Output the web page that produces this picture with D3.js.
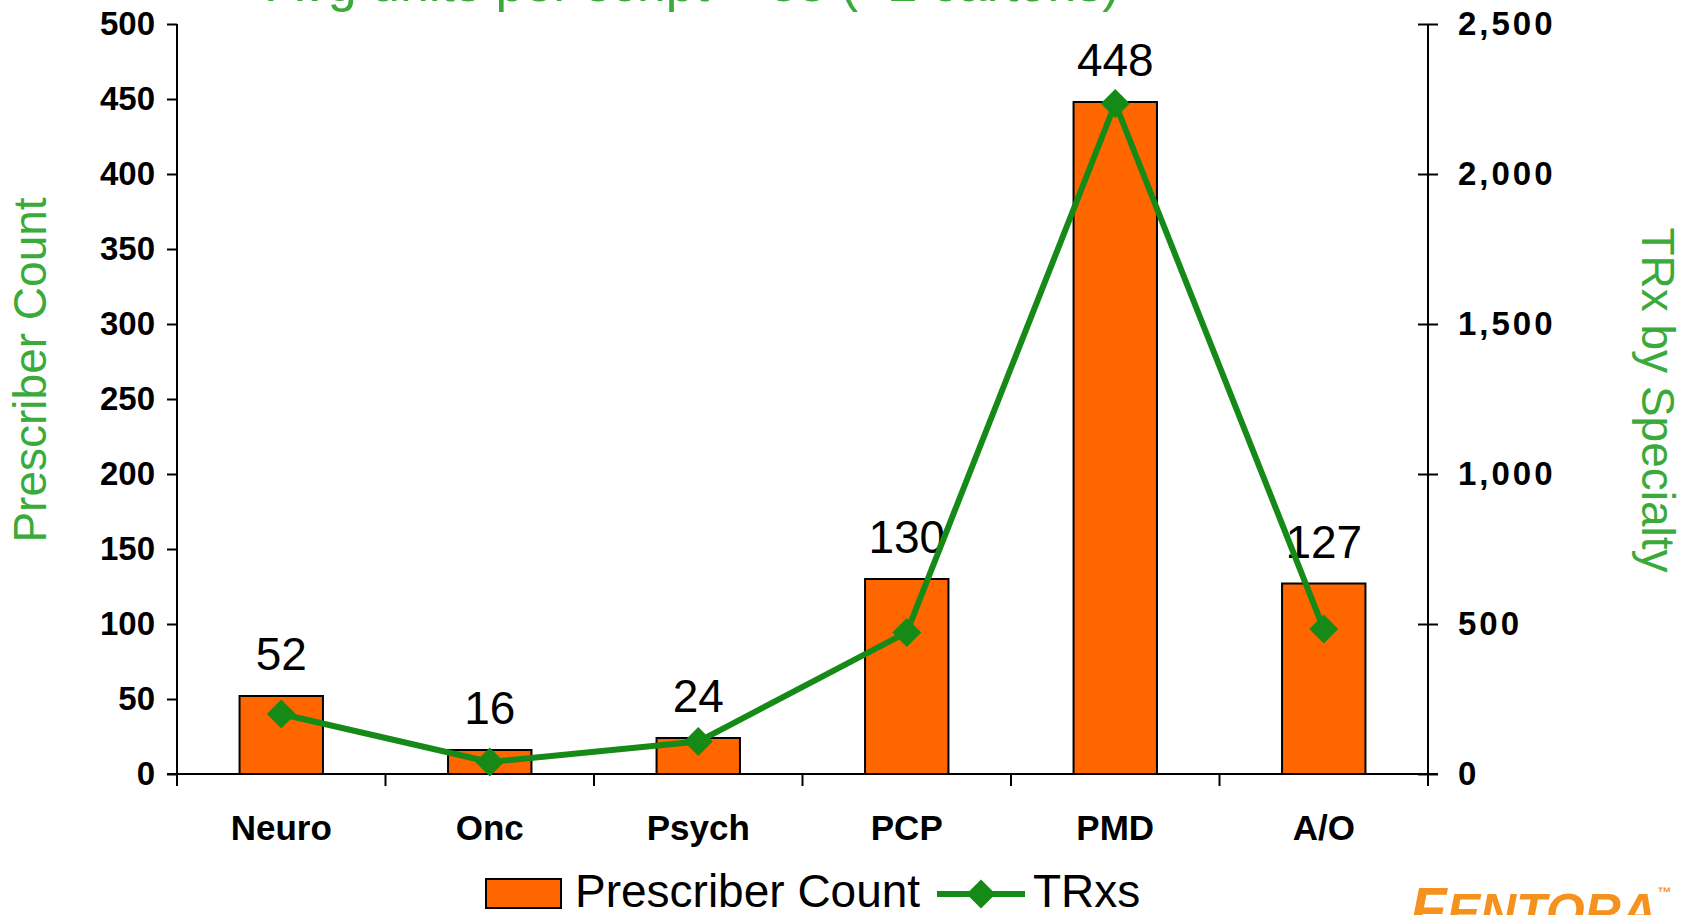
<!DOCTYPE html>
<html><head><meta charset="utf-8">
<script src="https://cdn.jsdelivr.net/npm/d3@7"></script>
<style>
html,body{margin:0;padding:0;background:#fff;overflow:hidden}
text{font-family:Arial,"Liberation Sans",sans-serif}
</style></head>
<body>
<svg id="c" width="1696" height="915"></svg>
<script>
const categories = ["Neuro","Onc","Psych","PCP","PMD","A/O"];
const prescriberCount = [52,16,24,130,448,127];
const trxs = [200,40,108,472,2235,483];
const leftTicks = [0,50,100,150,200,250,300,350,400,450,500];
const rightTicks = [0,500,1000,1500,2000,2500];
const titleText = "Avg units per script ~ 38 (~2 cartons)";
const leftTitle = "Prescriber Count";
const rightTitle = "TRx by Specialty";
const legendLabels = ["Prescriber Count","TRxs"];

const svg = d3.select("#c");
const X0 = 177, X1 = 1428, Y0 = 774, Y1 = 24;
const barColor = "#FF6600", lineColor = "#168A16", titleGreen = "#3AAA3A";

const x = d3.scaleBand().domain(categories).range([X0, X1]).padding(0);
const yL = d3.scaleLinear().domain([0,500]).range([Y0, Y1]);
const yR = d3.scaleLinear().domain([0,2500]).range([Y0, Y1]);
const bw = x.bandwidth()*0.4;
const cx = d => x(d) + x.bandwidth()/2;

// title (clipped at top like reference)
svg.append("text").attr("x",268).attr("y",1).attr("fill",titleGreen)
  .attr("font-size",52).text(titleText);

// bars
svg.append("g").selectAll("rect").data(categories).join("rect")
  .attr("x", d => cx(d) - bw/2).attr("width", bw)
  .attr("y", (d,i) => yL(prescriberCount[i]))
  .attr("height", (d,i) => Y0 - yL(prescriberCount[i]))
  .attr("fill", barColor).attr("stroke","#000").attr("stroke-width",2);

// left axis
const gL = svg.append("g").attr("transform",`translate(${X0},0)`)
  .call(d3.axisLeft(yL).tickValues(leftTicks).tickSize(10).tickSizeOuter(0).tickPadding(12));
gL.select(".domain").remove();
gL.selectAll("line").attr("stroke","#000").attr("stroke-width",2);
gL.selectAll("text").attr("font-size",33).attr("font-weight","bold").attr("fill","#000")
  .attr("font-family","Arial, 'Liberation Sans', sans-serif");
svg.append("line").attr("x1",X0).attr("x2",X0).attr("y1",Y1).attr("y2",Y0+12).attr("stroke","#000").attr("stroke-width",2);

// right axis
const gR = svg.append("g").attr("transform",`translate(${X1},0)`)
  .call(d3.axisRight(yR).tickValues(rightTicks).tickSize(10).tickSizeOuter(0).tickPadding(20).tickFormat(d3.format(",")));
gR.select(".domain").remove();
gR.selectAll("line").attr("x1",-10).attr("x2",10).attr("stroke","#000").attr("stroke-width",2);
gR.selectAll("text").attr("font-size",33).attr("font-weight","bold").attr("fill","#000")
  .attr("letter-spacing",3).attr("font-family","Arial, 'Liberation Sans', sans-serif");
svg.append("line").attr("x1",X1).attr("x2",X1).attr("y1",Y1).attr("y2",Y0+12).attr("stroke","#000").attr("stroke-width",2);

// x axis
svg.append("line").attr("x1",X0-10).attr("x2",X1+10).attr("y1",Y0).attr("y2",Y0).attr("stroke","#000").attr("stroke-width",2);
const bounds = categories.map(d => x(d)).concat([x.range()[1]]);
svg.append("g").selectAll("line").data(bounds).join("line")
  .attr("x1",d=>d).attr("x2",d=>d).attr("y1",Y0).attr("y2",Y0+12).attr("stroke","#000").attr("stroke-width",2);
svg.append("g").selectAll("text").data(categories).join("text")
  .attr("x",cx).attr("y",840).attr("text-anchor","middle")
  .attr("font-size",35).attr("font-weight","bold").attr("fill","#000").text(d=>d);

// data labels
svg.append("g").selectAll("text").data(categories).join("text")
  .attr("x",cx).attr("y",(d,i)=>yL(prescriberCount[i]) - 26).attr("text-anchor","middle")
  .attr("font-size",46).attr("fill","#000").text((d,i)=>prescriberCount[i]);

// line
const line = d3.line().x((d,i)=>cx(categories[i])).y(d=>yR(d));
svg.append("path").datum(trxs).attr("d",line).attr("fill","none")
  .attr("stroke",lineColor).attr("stroke-width",6).attr("stroke-linejoin","round");
const diamond = d3.symbol().type(d3.symbolSquare).size(420);
svg.append("g").selectAll("path").data(trxs).join("path")
  .attr("d",diamond)
  .attr("transform",(d,i)=>`translate(${cx(categories[i])},${yR(d)}) rotate(45)`)
  .attr("fill",lineColor);

// axis titles
svg.append("text").attr("transform","translate(46,370) rotate(-90)").attr("text-anchor","middle")
  .attr("font-size",46).attr("fill",titleGreen).text(leftTitle);
svg.append("text").attr("transform","translate(1642,400) rotate(90)").attr("text-anchor","middle")
  .attr("font-size",46).attr("fill",titleGreen).text(rightTitle);

// legend
svg.append("rect").attr("x",486).attr("y",879).attr("width",75).attr("height",29)
  .attr("fill",barColor).attr("stroke","#000").attr("stroke-width",2);
svg.append("text").attr("x",575).attr("y",907).attr("font-size",46).attr("fill","#000").text(legendLabels[0]);
svg.append("line").attr("x1",937).attr("x2",1025).attr("y1",894).attr("y2",894)
  .attr("stroke",lineColor).attr("stroke-width",6);
svg.append("path").attr("d",diamond).attr("transform","translate(981,894) rotate(45)").attr("fill",lineColor);
svg.append("text").attr("x",1033).attr("y",907).attr("font-size",46).attr("fill","#000").text(legendLabels[1]);

// logo (cut off at bottom)
const logo = svg.append("text").attr("x",1410).attr("y",929).attr("fill","#F5921E")
  .attr("font-weight","bold").attr("font-style","italic");
logo.append("tspan").attr("font-size",60).text("F");
logo.append("tspan").attr("font-size",50).text("ENTORA");
logo.append("tspan").attr("font-size",14).attr("dy",-32).text("™");
</script>
</body></html>
